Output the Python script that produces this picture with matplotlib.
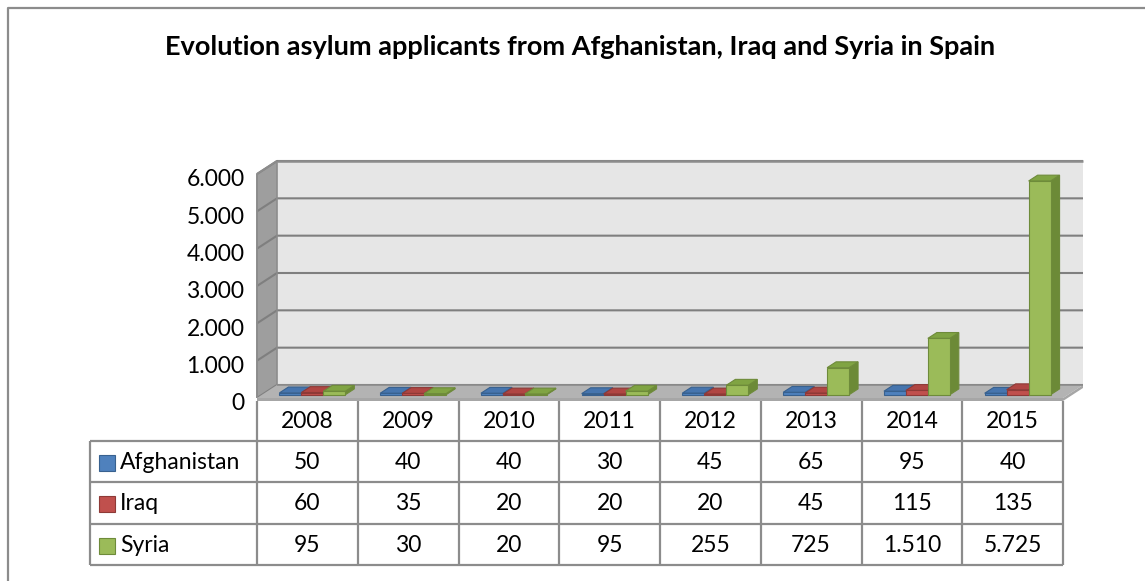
import matplotlib
matplotlib.use("Agg")
import matplotlib.pyplot as plt
from matplotlib.patches import Polygon, Rectangle
from matplotlib.lines import Line2D
from matplotlib.transforms import Affine2D, IdentityTransform, blended_transform_factory

# data
years = ["2008", "2009", "2010", "2011", "2012", "2013", "2014", "2015"]
countries = ["Afghanistan", "Iraq", "Syria"]
afghanistan = [50, 40, 40, 30, 45, 65, 95, 40]
iraq = [60, 35, 20, 20, 20, 45, 115, 135]
syria = [95, 30, 20, 95, 255, 725, 1510, 5725]
y_ticks = [0, 1000, 2000, 3000, 4000, 5000, 6000]

title = "Evolution asylum applicants from Afghanistan, Iraq and Syria in Spain"

# office 2007 colours: front, side, top, edge
palette = {
    "Afghanistan": ("#4F81BD", "#3A6396", "#4675AE", "#38618F"),
    "Iraq": ("#C0504D", "#943C3A", "#B04643", "#8E3A37"),
    "Syria": ("#9BBB59", "#6C8A37", "#80A443", "#6E8B3A"),
}

plt.rcParams['font.family'] = ['Lato', 'DejaVu Sans']
FS = 16.5

W, H = 1145, 581
fig = plt.figure(figsize=(W / 100, H / 100), dpi=100)

# front plane of the 3d box, in image pixels
x_left, x_right = 257, 1063
y_zero, y_top = 398, 174
ax = fig.add_axes([x_left / W, (H - y_zero) / H,
                   (x_right - x_left) / W, (y_zero - y_top) / H])
ax.set_xlim(-0.5, len(years) - 0.5)
ax.set_ylim(0, 6000)
ax.patch.set_visible(False)
for s in ax.spines.values():
    s.set_visible(False)
ax.set_xticks([])
ax.set_yticks(y_ticks)
ax.set_yticklabels([f"{v:,}".replace(",", ".") for v in y_ticks], fontsize=FS)
ax.tick_params(axis="y", length=0, pad=9)
for lab in ax.get_yticklabels():
    lab.set_transform(lab.get_transform() + Affine2D().translate(0, -4))

DX, DY = 20, 13          # depth offset in pixels
img = Affine2D().scale(1, -1).translate(0, H)   # image px -> display
ident = IdentityTransform()


def P(x, v, d):
    px, py = ax.transData.transform((x, v))
    return (px + DX * d, py + DY * d)


def poly(pts, fc, ec="none", lw=0, z=1):
    ax.add_patch(Polygon(pts, closed=True, facecolor=fc, edgecolor=ec,
                         linewidth=lw, transform=ident, clip_on=False, zorder=z))


def line(pts, color="#8C8C8C", lw=1.6, z=2, tr=ident):
    xs, ys = zip(*pts)
    ax.add_line(Line2D(xs, ys, color=color, linewidth=lw, transform=tr,
                       clip_on=False, zorder=z, solid_capstyle="butt"))


x0, x1 = -0.5, len(years) - 0.5
ymax = y_ticks[-1]

# back wall
poly([P(x0, 0, 1), P(x1, 0, 1), P(x1, ymax, 1), P(x0, ymax, 1)], "#E6E6E6", z=1)
# side wall
poly([P(x0, 0, 0), P(x0, 0, 1), P(x0, ymax, 1), P(x0, ymax, 0)], "#9E9E9E", z=1)
# gridlines
for v in y_ticks:
    line([P(x0, v, 0), P(x0, v, 1), P(x1, v, 1)], color="#7F7F7F", lw=1.5, z=2)
line([P(x0, ymax, 1), P(x1, ymax, 1)], color="#8C8C8C", lw=1.8, z=2)
line([P(x0, 0, 0), P(x0, ymax, 0), P(x0, ymax, 1)], color="#8C8C8C", lw=1.4, z=2)
line([P(x0, ymax, 1), P(x0, 0, 1)], color="#8C8C8C", lw=1.2, z=2)

# floor (top surface + thin slab)
poly([P(x0, 0, 0), P(x1, 0, 0), P(x1, 0, 1), P(x0, 0, 1)], "#B3B3B3", z=3)
slab = [P(x0, 0, 0), P(x1, 0, 0), P(x1, 0, 1)]
slab_dn = [(x, y - 3) for x, y in slab]
poly(slab + slab_dn[::-1], "#A6A6A6", z=3)
line([P(x1, 0, 1), P(x0, 0, 1)], color="#8C8C8C", lw=1.2, z=3)

# bars
bw = 0.218
d0, d1 = 0.25, 0.7
series = [afghanistan, iraq, syria]
for i in range(len(years)):
    for k, (name, vals) in enumerate(zip(countries, series)):
        v = vals[i]
        front, side, top, edge = palette[name]
        a = i + (k - 1.5) * bw
        b = a + bw
        z = 4 + k * 0.01
        poly([P(b, 0, d0), P(b, 0, d1), P(b, v, d1), P(b, v, d0)], side, edge, 0.8, z)
        poly([P(a, v, d0), P(b, v, d0), P(b, v, d1), P(a, v, d1)], top, edge, 0.8, z)
        poly([P(a, 0, d0), P(b, 0, d0), P(b, v, d0), P(a, v, d0)], front, edge, 0.8, z)

# data table
tx = blended_transform_factory(ax.transData, img)
row_y = [401, 441, 482, 524, 565]
tab_left = 90
grid_c = "#8C8C8C"
for j in range(len(years) + 1):
    line([(j - 0.5, row_y[0]), (j - 0.5, row_y[-1])], color=grid_c, lw=1.6, tr=tx)
for yy in row_y[1:]:
    line([(tab_left, yy), (x_right, yy)], color=grid_c, lw=1.6, tr=img)
line([(tab_left, row_y[1]), (tab_left, row_y[-1])], color=grid_c, lw=1.6, tr=img)

for i, yr in enumerate(years):
    ax.text(i, (row_y[0] + row_y[1]) / 2 + 1, yr, transform=tx, ha="center",
            va="center", fontsize=FS, clip_on=False)

for r, (name, vals) in enumerate(zip(countries, series)):
    yc = (row_y[r + 1] + row_y[r + 2]) / 2 + 1
    front, side, top, edge = palette[name]
    ax.add_patch(Rectangle((99, yc - 8), 16, 16, facecolor=front, edgecolor=edge,
                           linewidth=0.8, transform=img, clip_on=False))
    ax.text(120, yc, name, transform=img, ha="left", va="center", fontsize=FS,
            clip_on=False)
    for i, v in enumerate(vals):
        ax.text(i, yc, f"{v:,}".replace(",", "."), transform=tx, ha="center",
                va="center", fontsize=FS, clip_on=False)

# title and outer frame
fig.text(580 / W, 1 - 47 / H, title, ha="center", va="center", fontsize=19.5,
         fontweight="bold")
fig.add_artist(Line2D([8 / W, 8 / W, 1], [0, 1 - 8 / H, 1 - 8 / H],
                      color="#8C8C8C", linewidth=1.6, transform=fig.transFigure))

fig.savefig("out.png", dpi=100)
